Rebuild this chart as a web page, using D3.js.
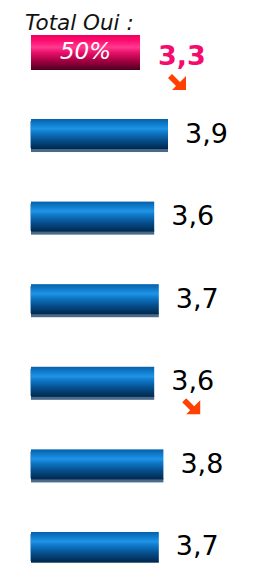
<!DOCTYPE html>
<html><head><meta charset="utf-8">
<script src="https://cdn.jsdelivr.net/npm/d3@7"></script>
<style>body{margin:0;background:#fff}svg{display:block}</style>
</head><body>
<script>
const categories = ["Q1","Q2","Q3","Q4","Q5","Q6"];
const scores = [3.9, 3.6, 3.7, 3.6, 3.8, 3.7];
const trendDown = [false, false, false, true, false, false];
const totalLabel = "Total Oui :";
const totalPct = 50;
const totalScore = 3.3;
const totalTrendDown = true;

const W = 275, H = 563;
const svg = d3.select("body").append("svg").attr("width", W).attr("height", H);
const defs = svg.append("defs");

const blue = defs.append("linearGradient").attr("id","gBlue").attr("x1",0).attr("y1",0).attr("x2",0).attr("y2",1);
[[0,"#0560a8"],[0.12,"#0c74c4"],[0.32,"#1f94e6"],[0.45,"#0f78c8"],[0.7,"#064f8e"],[1,"#00284c"]]
  .forEach(([o,c])=>blue.append("stop").attr("offset",o).attr("stop-color",c));
const pink = defs.append("linearGradient").attr("id","gPink").attr("x1",0).attr("y1",0).attr("x2",0).attr("y2",1);
[[0,"#f0005c"],[0.15,"#ff0a6e"],[0.35,"#ff3a8e"],[0.5,"#e8106a"],[0.75,"#a00040"],[1,"#4c0020"]]
  .forEach(([o,c])=>pink.append("stop").attr("offset",o).attr("stop-color",c));

const x = d3.scaleLinear().domain([0.92, 3.9]).range([31, 168]);
const y = d3.scaleBand().domain(categories).range([119, 565]).paddingInner(0.6).paddingOuter(0);
const bw = y.bandwidth();

const arrowPath = "M0,4 L4,0 L12,8 L18,2 L18,16 L4,16 L8,12 Z";

// top block
svg.append("text").attr("x",25).attr("y",30)
  .attr("font-family","DejaVu Sans, Verdana, sans-serif").attr("font-style","italic")
  .attr("font-size",21.5).attr("fill","#111").text(totalLabel);
const px = d3.scaleLinear().domain([0,50]).range([31,140]);
svg.append("rect").attr("x",px(0)).attr("y",35).attr("width",px(totalPct)-px(0)).attr("height",35).attr("fill","url(#gPink)");
svg.append("text").attr("x",(px(0)+px(totalPct))/2).attr("y",59)
  .attr("text-anchor","middle").attr("font-family","DejaVu Sans, Verdana, sans-serif").attr("font-style","italic")
  .attr("font-size",23).attr("fill","#fff").text(totalPct+"%");
svg.append("text").attr("x",px(totalPct)+18).attr("y",65)
  .attr("font-family","DejaVu Sans, Verdana, sans-serif").attr("font-weight","bold")
  .attr("font-size",27).attr("fill","#f50a6e").text(d3.format(".1f")(totalScore).replace(".",","));
if (totalTrendDown) svg.append("path").attr("d",arrowPath).attr("fill","#ff4000")
  .attr("transform",`translate(${px(totalPct)+28},74)`);

// bars
const g = svg.selectAll("g.bar").data(categories.map((c,i)=>({c,v:scores[i],d:trendDown[i]}))).enter()
  .append("g").attr("class","bar");
g.append("rect").attr("x",x.range()[0]).attr("y",d=>y(d.c)+bw-4).attr("width",d=>x(d.v)-x.range()[0]).attr("height",4).attr("fill","#4a6a8a");
g.append("rect").attr("x",x.range()[0]).attr("y",d=>y(d.c)).attr("width",d=>x(d.v)-x.range()[0]).attr("height",bw-3).attr("fill","url(#gBlue)");
g.append("rect").attr("x",x.range()[0]-1).attr("y",d=>y(d.c)+2).attr("width",1).attr("height",bw-6).attr("fill","#8ab4d8");
g.append("text").attr("x",d=>x(d.v)+17).attr("y",d=>y(d.c)+bw/2+7)
  .attr("font-family","DejaVu Sans, Verdana, sans-serif").attr("font-size",27).attr("fill","#000")
  .text(d=>d3.format(".1f")(d.v).replace(".",","));
g.filter(d=>d.d).append("path").attr("d",arrowPath).attr("fill","#ff4000")
  .attr("transform",d=>`translate(${x(d.v)+28},${y(d.c)+bw/2+15})`);
</script>
</body></html>
